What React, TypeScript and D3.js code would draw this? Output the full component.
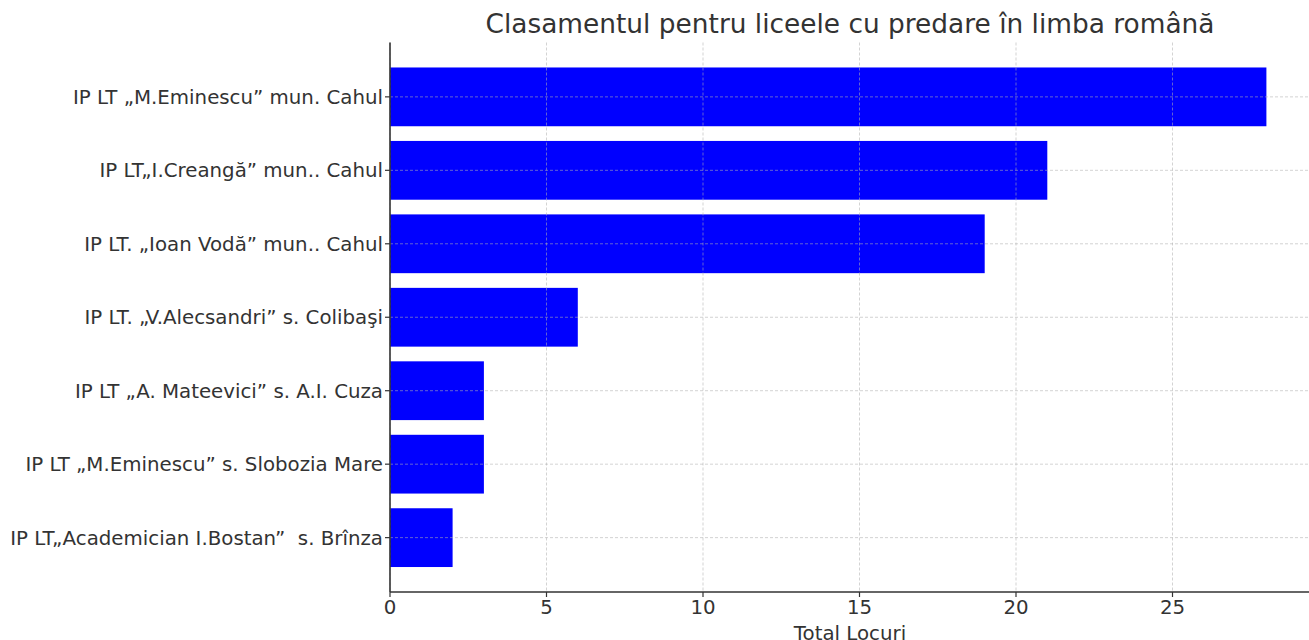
import React from "react";
import * as d3 from "d3";

const categories = [
  "IP LT „M.Eminescu” mun. Cahul",
  "IP LT„I.Creangă” mun.. Cahul",
  "IP LT. „Ioan Vodă” mun.. Cahul",
  "IP LT. „V.Alecsandri” s. Colibaşi",
  "IP LT „A. Mateevici” s. A.I. Cuza",
  "IP LT „M.Eminescu” s. Slobozia Mare",
  "IP LT„Academician I.Bostan”  s. Brînza",
];
const values = [28, 21, 19, 6, 3, 3, 2];
const xTicks = [0, 5, 10, 15, 20, 25];
const title = "Clasamentul pentru liceele cu predare în limba română";
const xLabel = "Total Locuri";

export default function App() {
  const W = 1309, H = 640;
  const left = 390, top = 42.5, bottom = 592;
  const maxV = d3.max(values) as number;
  const x = d3.scaleLinear().domain([0, maxV * 1.05]).range([left, left + 31.3 * maxV * 1.05]);
  const n = categories.length;
  const lo = -0.4, hi = n - 1 + 0.4;
  const m = (hi - lo) * 0.05;
  const y = d3.scaleLinear().domain([lo - m, hi + m]).range([top, bottom]);
  const font = "DejaVu Sans, sans-serif";
  const textColor = "#333333";
  return (
    <svg width={W} height={H} style={{ position: "absolute", left: 0, top: 0 }} fontFamily={font}>
      <rect width={W} height={H} fill="#ffffff" />
      {categories.map((c, i) => (
        <rect key={c} x={x(0)} y={y(i - 0.4)} width={x(values[i]) - x(0)} height={y(i + 0.4) - y(i - 0.4)} fill="#0000ff" />
      ))}
      {xTicks.map((t) => (
        <line key={"gx" + t} x1={x(t)} x2={x(t)} y1={top} y2={bottom} stroke="#b0b0b0" strokeOpacity={0.7} strokeWidth={0.8} strokeDasharray="3,2" />
      ))}
      {categories.map((c, i) => (
        <line key={"gy" + i} x1={left} x2={W} y1={y(i)} y2={y(i)} stroke="#b0b0b0" strokeOpacity={0.7} strokeWidth={0.8} strokeDasharray="3,2" />
      ))}
      <line x1={left} x2={left} y1={top} y2={bottom} stroke="#333333" strokeWidth={1.6} />
      <line x1={left} x2={W} y1={bottom} y2={bottom} stroke="#333333" strokeWidth={1.6} />
      {xTicks.map((t) => (
        <g key={"tx" + t}>
          <line x1={x(t)} x2={x(t)} y1={bottom} y2={bottom + 5} stroke="#333333" strokeWidth={1.2} />
          <text x={x(t)} y={bottom + 22} textAnchor="middle" fontSize={19.8} fill={textColor}>{t}</text>
        </g>
      ))}
      {categories.map((c, i) => (
        <g key={"ty" + i}>
          <line x1={left - 5} x2={left} y1={y(i)} y2={y(i)} stroke="#333333" strokeWidth={1.2} />
          <text x={left - 7} y={y(i)} dy="0.36em" textAnchor="end" fontSize={19.8} fill={textColor} style={{ whiteSpace: "pre" }}>{c}</text>
        </g>
      ))}
      <text x={(left + W) / 2 + 0.5} y={640} textAnchor="middle" fontSize={19.8} fill={textColor}>{xLabel}</text>
      <text x={(left + W) / 2 + 0.5} y={33} textAnchor="middle" fontSize={26.4} fill={textColor}>{title}</text>
    </svg>
  );
}
